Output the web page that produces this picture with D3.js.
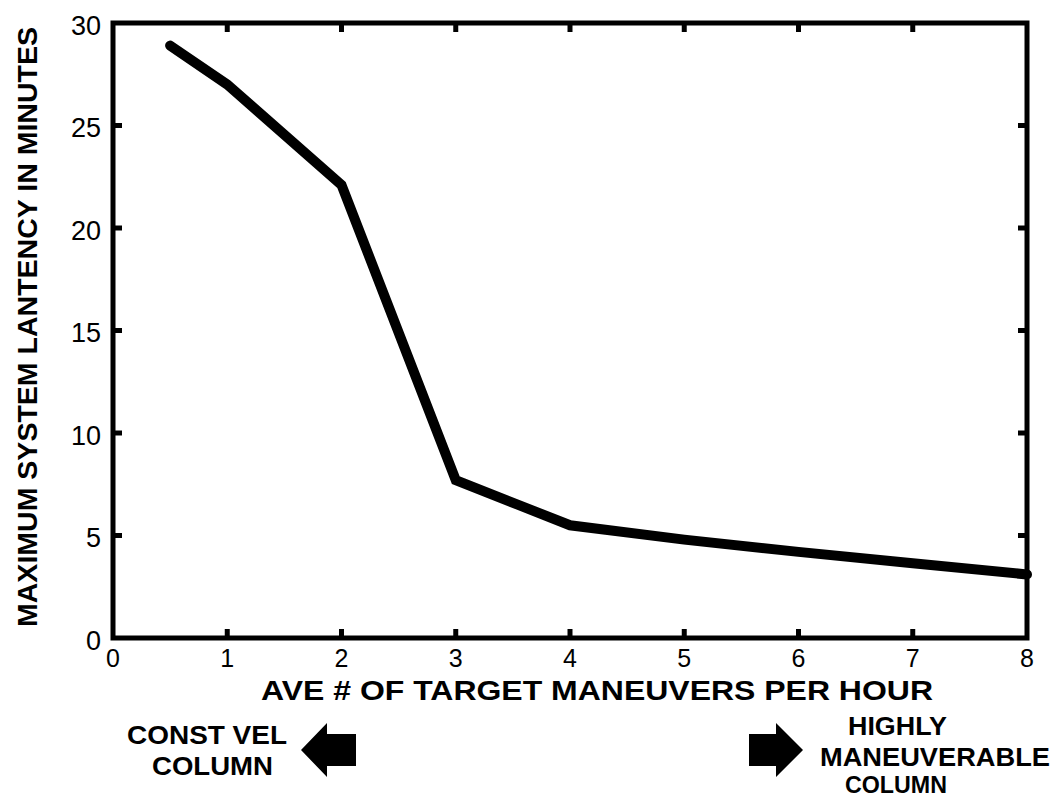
<!DOCTYPE html>
<html>
<head>
<meta charset="utf-8">
<script src="https://cdn.jsdelivr.net/npm/d3@7"></script>
<style>
  html, body { margin: 0; padding: 0; background: #fff; }
  svg { display: block; }
</style>
</head>
<body>
<svg id="chart" width="1054" height="797"></svg>
<script>
// ---- data ----
const maneuversPerHour = [0.5, 1, 2, 3, 4, 5, 6, 7, 8];
const maxLatencyMinutes = [28.9, 27, 22.1, 7.7, 5.5, 4.8, 4.2, 3.65, 3.1];
const xTickValues = [0, 1, 2, 3, 4, 5, 6, 7, 8];
const yTickValues = [0, 5, 10, 15, 20, 25, 30];
const xTitle = "AVE # OF TARGET MANEUVERS PER HOUR";
const yTitle = "MAXIMUM SYSTEM LANTENCY IN MINUTES";
const leftNote = ["CONST VEL", "COLUMN"];
const rightNote = ["HIGHLY", "MANEUVERABLE", "COLUMN"];

// ---- layout ----
const svg = d3.select("#chart");
const L = 113, R = 1027, T = 23, B = 638;
const x = d3.scaleLinear().domain([0, 8]).range([L, R]);
const y = d3.scaleLinear().domain([0, 30]).range([B, T]);
const sans = "'Liberation Sans', Arial, Helvetica, sans-serif";

// inward ticks on all four sides
const tickLen = 9;
const g = svg.append("g");
g.selectAll("line.xb").data(xTickValues.slice(1, -1)).join("line")
  .attr("class", "xb")
  .attr("x1", d => x(d)).attr("x2", d => x(d)).attr("y1", B).attr("y2", B - tickLen)
  .attr("stroke", "#000").attr("stroke-width", 5);
g.selectAll("line.xt").data(xTickValues.slice(1, -1)).join("line")
  .attr("class", "xt")
  .attr("x1", d => x(d)).attr("x2", d => x(d)).attr("y1", T).attr("y2", T + tickLen)
  .attr("stroke", "#000").attr("stroke-width", 5);
g.selectAll("line.yl").data(yTickValues.slice(1, -1)).join("line")
  .attr("class", "yl")
  .attr("x1", L).attr("x2", L + tickLen).attr("y1", d => y(d)).attr("y2", d => y(d))
  .attr("stroke", "#000").attr("stroke-width", 5);
g.selectAll("line.yr").data(yTickValues.slice(1, -1)).join("line")
  .attr("class", "yr")
  .attr("x1", R).attr("x2", R - tickLen).attr("y1", d => y(d)).attr("y2", d => y(d))
  .attr("stroke", "#000").attr("stroke-width", 5);

// frame
svg.append("rect").attr("x", L).attr("y", T).attr("width", R - L).attr("height", B - T)
  .attr("fill", "none").attr("stroke", "#000").attr("stroke-width", 5);

// tick labels
svg.selectAll("text.xl").data(xTickValues).join("text")
  .attr("class", "xl")
  .attr("x", d => x(d)).attr("y", 667)
  .attr("text-anchor", "middle").attr("font-family", sans).attr("font-size", 25)
  .text(d => d);
svg.selectAll("text.yl").data(yTickValues).join("text")
  .attr("class", "yl")
  .attr("x", 101).attr("y", d => y(d) + 2).attr("dy", "0.36em")
  .attr("text-anchor", "end").attr("font-family", sans).attr("font-size", 27)
  .text(d => d);

// data line
const line = d3.line().x((d, i) => x(maneuversPerHour[i])).y(d => y(d));
svg.append("path").datum(maxLatencyMinutes)
  .attr("d", line)
  .attr("fill", "none").attr("stroke", "#000").attr("stroke-width", 10)
  .attr("stroke-linejoin", "miter").attr("stroke-linecap", "round");

// axis titles (bold, condensed)
svg.append("text")
  .attr("x", 261).attr("y", 700)
  .attr("font-family", sans).attr("font-weight", "bold").attr("font-size", 28)
  .attr("textLength", 672).attr("lengthAdjust", "spacingAndGlyphs")
  .text(xTitle);
svg.append("text")
  .attr("transform", "translate(37,627) rotate(-90)")
  .attr("x", 0).attr("y", 0)
  .attr("font-family", sans).attr("font-weight", "bold").attr("font-size", 28)
  .attr("textLength", 600).attr("lengthAdjust", "spacingAndGlyphs")
  .text(yTitle);

// annotations
function note(txt, x0, base, len, size) {
  svg.append("text").attr("x", x0).attr("y", base)
    .attr("font-family", sans).attr("font-weight", "bold").attr("font-size", size)
    .attr("textLength", len).attr("lengthAdjust", "spacingAndGlyphs")
    .text(txt);
}
note(leftNote[0], 127, 744, 160, 26);
note(leftNote[1], 152, 775, 121, 26);
note(rightNote[0], 848, 735, 99, 26);
note(rightNote[1], 820, 766, 230, 25);
note(rightNote[2], 845, 793, 102, 23);

// arrows
function arrow(tipX, tipY, headX, headHalf, tailX, shaftHalf) {
  const p = d3.path();
  p.moveTo(tipX, tipY);
  p.lineTo(headX, tipY - headHalf);
  p.lineTo(headX, tipY - shaftHalf);
  p.lineTo(tailX, tipY - shaftHalf);
  p.lineTo(tailX, tipY + shaftHalf);
  p.lineTo(headX, tipY + shaftHalf);
  p.lineTo(headX, tipY + headHalf);
  p.closePath();
  svg.append("path").attr("d", p.toString()).attr("fill", "#000");
}
arrow(301, 750, 327, 27, 356, 16);
arrow(803, 750, 776, 27, 749, 16);
</script>
</body>
</html>
